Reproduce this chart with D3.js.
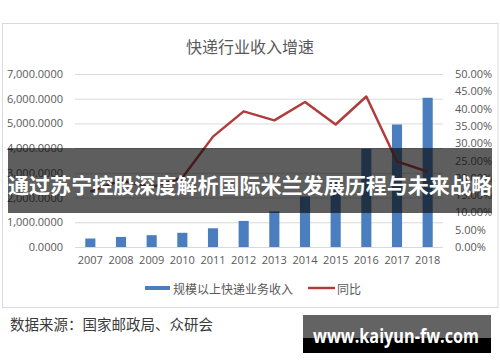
<!DOCTYPE html>
<html>
<head>
<meta charset="utf-8">
<script src="https://cdn.jsdelivr.net/npm/d3@7"></script>
<style>
  body { margin: 0; background: #fff; }
  svg { display: block; font-family: "Noto Sans CJK SC", "Noto Sans", sans-serif; }
</style>
</head>
<body>
<svg id="chart" width="500" height="362"></svg>
<script>
const years = ["2007", "2008", "2009", "2010", "2011", "2012", "2013", "2014", "2015", "2016", "2017", "2018"];
const revenue = [342.6, 408.4, 479.0, 574.6, 758.0, 1055.3, 1441.7, 2045.4, 2769.6, 3974.4, 4957.1, 6038.4];
const growth = [0.16, 0.192, 0.173, 0.200, 0.319, 0.392, 0.366, 0.419, 0.354, 0.435, 0.247, 0.218];
const leftTicks = [0, 1000, 2000, 3000, 4000, 5000, 6000, 7000];
const rightTicks = [0, 0.05, 0.1, 0.15, 0.2, 0.25, 0.3, 0.35, 0.4, 0.45, 0.5];

const svg = d3.select("#chart");
const grey = "#595959";

// chart frame
svg.append("rect")
    .attr("x", 2.5).attr("y", 23.5)
    .attr("width", 495.5).attr("height", 284)
    .attr("fill", "#fff").attr("stroke", "#d9d9d9");

svg.append("text")
    .attr("x", 250).attr("y", 46)
    .attr("text-anchor", "middle").attr("dominant-baseline", "central")
    .attr("font-size", 16).attr("fill", grey)
    .text("快递行业收入增速");

const x = d3.scaleBand().domain(years).range([75, 443]).paddingInner(0.67).paddingOuter(0.335);
const xc = d3.scaleBand().domain(years).range([75, 443]);
const yL = d3.scaleLinear().domain([0, 7000]).range([247, 74]);
const yR = d3.scaleLinear().domain([0, 0.5]).range([247, 74]);

// gridlines
svg.append("g").selectAll("line").data(leftTicks).join("line")
    .attr("x1", 75).attr("x2", 443)
    .attr("y1", d => yL(d) + 0.5).attr("y2", d => yL(d) + 0.5)
    .attr("stroke", "#d9d9d9").attr("stroke-width", 1);

const axL = svg.append("g").attr("transform", "translate(66,0)")
    .call(d3.axisLeft(yL).tickValues(leftTicks).tickFormat(d3.format(",.4f")).tickSize(0).tickPadding(3));
const axR = svg.append("g").attr("transform", "translate(453,0)")
    .call(d3.axisRight(yR).tickValues(rightTicks).tickFormat(d3.format(".2%")).tickSize(0).tickPadding(2));
const axB = svg.append("g").attr("transform", "translate(0,252)")
    .call(d3.axisBottom(xc).tickSize(0).tickPadding(4));
[axL, axR, axB].forEach(a => {
    a.select(".domain").remove();
    a.selectAll("text").attr("fill", grey).attr("font-size", 11)
        .attr("font-family", "Open Sans, sans-serif");
});

// bars
svg.append("g").selectAll("rect").data(revenue).join("rect")
    .attr("x", (d, i) => x(years[i]))
    .attr("width", x.bandwidth())
    .attr("y", d => yL(d))
    .attr("height", d => yL(0) - yL(d))
    .attr("fill", "#4a7ebe");

// growth line
const line = d3.line()
    .x((d, i) => xc(years[i]) + xc.bandwidth() / 2)
    .y(d => yR(d));
svg.append("path").datum(growth)
    .attr("d", line)
    .attr("fill", "none").attr("stroke", "#b03c3c")
    .attr("stroke-width", 2.5).attr("stroke-linejoin", "round");

// legend
const lg = svg.append("g");
lg.append("line").attr("x1", 145).attr("x2", 170).attr("y1", 288).attr("y2", 288)
    .attr("stroke", "#4a7ebe").attr("stroke-width", 4);
lg.append("text").attr("x", 173).attr("y", 288).attr("dominant-baseline", "central")
    .attr("font-size", 12).attr("fill", grey).text("规模以上快递业务收入");
lg.append("line").attr("x1", 308).attr("x2", 335).attr("y1", 288).attr("y2", 288)
    .attr("stroke", "#b03c3c").attr("stroke-width", 2.5);
lg.append("text").attr("x", 337).attr("y", 288).attr("dominant-baseline", "central")
    .attr("font-size", 12).attr("fill", grey).text("同比");

// source
svg.append("text").attr("x", 10).attr("y", 323).attr("dominant-baseline", "central")
    .attr("font-size", 14.5).attr("fill", "#3a3a3a").text("数据来源：国家邮政局、众研会");

// banner overlay
svg.append("rect").attr("x", 8).attr("y", 148).attr("width", 484).attr("height", 65)
    .attr("fill", "rgba(10,10,10,0.66)");
svg.append("text").attr("x", 250).attr("y", 184)
    .attr("text-anchor", "middle").attr("dominant-baseline", "central")
    .attr("font-size", 21).attr("font-weight", "bold").attr("fill", "#fff")
    .attr("textLength", 484).attr("lengthAdjust", "spacingAndGlyphs")
    .text("通过苏宁控股深度解析国际米兰发展历程与未来战略");

// watermark
svg.append("rect").attr("x", 303).attr("y", 315).attr("width", 188).attr("height", 38).attr("fill", "#000");
svg.append("rect").attr("x", 303).attr("y", 315).attr("width", 188).attr("height", 23).attr("fill", "#636363");
svg.append("text").attr("x", 396).attr("y", 336)
    .attr("text-anchor", "middle").attr("dominant-baseline", "central")
    .attr("font-size", 19).attr("font-weight", "bold").attr("fill", "#fff")
    .attr("font-family", "Open Sans, sans-serif")
    .attr("textLength", 166).attr("lengthAdjust", "spacingAndGlyphs")
    .text("www.kaiyun-fw.com");
</script>
</body>
</html>
